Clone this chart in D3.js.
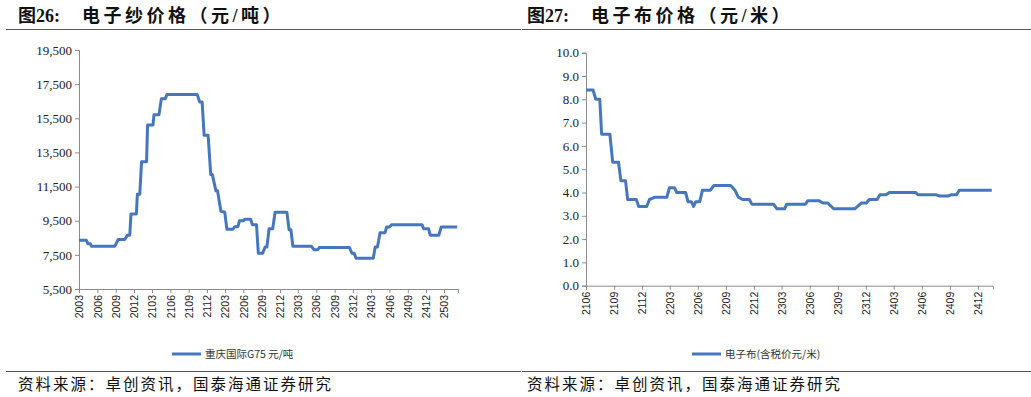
<!DOCTYPE html>
<html>
<head>
<meta charset="utf-8">
<script src="https://cdn.jsdelivr.net/npm/d3@7"></script>
<style>
  body { margin: 0; background: #fff; }
  svg { display: block; }
  .title { font-family: "Liberation Serif", "Noto Sans CJK SC", serif; font-weight: bold; font-size: 18px; fill: #111; }
  .title .rest { letter-spacing: 3.5px; }
  .source { font-family: "Noto Sans CJK SC", sans-serif; font-size: 15.5px; letter-spacing: 2px; fill: #111; }
  .legend { font-family: "Noto Sans CJK SC", sans-serif; font-size: 10.5px; fill: #333; }
  .y-axis text { font-family: "Liberation Serif", serif; font-size: 13px; fill: #222; }
  .x-axis text { font-family: "Liberation Sans", Arial, sans-serif; font-size: 10.5px; fill: #222; }
  .axis path, .axis line { stroke: #8c8c8c; }
</style>
</head>
<body>
<div id="chart"></div>
<script>
// 电子纱价格 重庆国际G75 (元/吨), vertices of the weekly price line
const yarnDates = [
  "2020-03-01", "2020-04-07", "2020-04-15", "2020-04-27", "2020-05-02", "2020-08-27", "2020-09-13",
  "2020-10-16", "2020-10-29", "2020-11-10", "2020-11-16", "2020-12-13", "2020-12-18", "2020-12-30",
  "2021-01-08", "2021-02-02", "2021-02-07", "2021-03-06", "2021-03-11", "2021-04-05", "2021-04-17",
  "2021-05-07", "2021-05-15", "2021-10-13", "2021-10-26", "2021-11-07", "2021-11-17", "2021-12-07",
  "2021-12-20", "2021-12-28", "2022-01-15", "2022-01-23", "2022-02-09", "2022-02-28", "2022-03-11",
  "2022-04-10", "2022-04-19", "2022-05-05", "2022-05-13", "2022-06-03", "2022-06-08", "2022-07-08",
  "2022-07-16", "2022-08-06", "2022-08-15", "2022-09-06", "2022-09-18", "2022-09-27", "2022-10-08",
  "2022-10-26", "2022-11-07", "2023-01-05", "2023-01-16", "2023-01-25", "2023-02-04", "2023-05-08",
  "2023-05-21", "2023-06-08", "2023-06-16", "2023-11-14", "2023-11-26", "2023-12-07", "2023-12-17",
  "2024-03-12", "2024-03-22", "2024-04-02", "2024-04-15", "2024-05-10", "2024-05-18", "2024-06-01",
  "2024-06-13", "2024-11-11", "2024-11-19", "2024-12-14", "2024-12-22", "2025-02-03", "2025-02-15",
  "2025-05-06"
];
const yarnValues = [
  8350, 8350, 8150, 8150, 8000, 8000, 8400,
  8400, 8650, 8650, 9900, 9900, 11050, 11050,
  12950, 12950, 15100, 15100, 15700, 15700, 16650,
  16650, 16900, 16900, 16450, 16450, 14500, 14500,
  12200, 12200, 11250, 11250, 10050, 10000, 9000,
  9000, 9150, 9150, 9500, 9500, 9580, 9580,
  9270, 9270, 7600, 7600, 7960, 7960, 9030,
  9030, 10000, 10000, 8970, 8970, 8000, 8000,
  7800, 7800, 7930, 7930, 7600, 7600, 7300,
  7300, 7960, 7960, 8800, 8800, 9130, 9130,
  9270, 9270, 9030, 9030, 8650, 8650, 9130,
  9130
];
const yarnXTicks = ["2003", "2006", "2009", "2012", "2103", "2106", "2109", "2112", "2203", "2206", "2209",
  "2212", "2303", "2306", "2309", "2312", "2403", "2406", "2409", "2412", "2503"];
const yarnYTicks = [5500, 7500, 9500, 11500, 13500, 15500, 17500, 19500];

// 电子布价格 (含税价 元/米)
const clothDates = [
  "2021-06-01", "2021-06-24", "2021-07-03", "2021-07-16", "2021-07-22", "2021-08-18", "2021-08-27",
  "2021-09-15", "2021-09-23", "2021-10-08", "2021-10-15", "2021-11-12", "2021-11-20", "2021-12-16",
  "2021-12-25", "2022-01-13", "2022-02-20", "2022-02-28", "2022-03-17", "2022-03-24", "2022-04-22",
  "2022-04-30", "2022-05-11", "2022-05-18", "2022-05-25", "2022-06-07", "2022-06-16", "2022-07-12",
  "2022-07-23", "2022-09-16", "2022-09-30", "2022-10-11", "2022-10-25", "2022-11-16", "2022-11-24",
  "2023-02-03", "2023-02-14", "2023-03-11", "2023-03-18", "2023-05-18", "2023-05-26", "2023-07-01",
  "2023-07-14", "2023-07-30", "2023-08-18", "2023-10-26", "2023-11-17", "2023-12-03", "2023-12-12",
  "2024-01-07", "2024-01-16", "2024-02-05", "2024-02-16", "2024-05-12", "2024-05-19", "2024-07-18",
  "2024-07-29", "2024-08-25", "2024-09-04", "2024-09-22", "2024-10-01", "2025-01-15"
];
const clothValues = [
  8.4, 8.4, 8.0, 8.0, 6.5, 6.5, 5.3,
  5.3, 4.5, 4.5, 3.7, 3.7, 3.4, 3.4,
  3.7, 3.8, 3.8, 4.2, 4.2, 4.0, 4.0,
  3.6, 3.6, 3.4, 3.6, 3.6, 4.1, 4.1,
  4.3, 4.3, 4.1, 3.8, 3.7, 3.7, 3.5,
  3.5, 3.3, 3.3, 3.5, 3.5, 3.65, 3.65,
  3.55, 3.55, 3.3, 3.3, 3.55, 3.55, 3.7,
  3.7, 3.9, 3.9, 4.0, 4.0, 3.9, 3.9,
  3.85, 3.85, 3.9, 3.9, 4.1, 4.1
];
const clothXTicks = ["2106", "2109", "2112", "2203", "2206", "2209", "2212", "2303", "2306", "2309",
  "2312", "2403", "2406", "2409", "2412"];
const clothYTicks = [0, 1, 2, 3, 4, 5, 6, 7, 8, 9, 10];

const lineColor = "#4677be";
const parseDate = d3.timeParse("%Y-%m-%d");
const parseTick = d3.timeParse("%y%m");

const svg = d3.select("#chart").append("svg").attr("width", 1031).attr("height", 397);

function drawPanel(opt) {
  const g = svg.append("g");
  const data = opt.dates.map((d, i) => ({ date: parseDate(d), value: opt.values[i] }));

  // title + rules
  const title = g.append("text").attr("class", "title").attr("y", 22);
  title.append("tspan").attr("x", opt.titleX).text(opt.titleNo);
  title.append("tspan").attr("class", "rest").attr("x", opt.titleX + 64).text(opt.title);
  g.append("line").attr("x1", opt.left0).attr("x2", opt.right0).attr("y1", 29.5).attr("y2", 29.5)
    .attr("stroke", "#555").attr("stroke-width", 1.2);
  g.append("line").attr("x1", opt.left0).attr("x2", opt.right0).attr("y1", 371.5).attr("y2", 371.5)
    .attr("stroke", "#555").attr("stroke-width", 1.2);
  g.append("text").attr("class", "source").attr("x", opt.titleX).attr("y", 390)
    .text("资料来源：卓创资讯，国泰海通证券研究");

  const x = d3.scaleTime().domain(opt.xDomain.map(parseDate)).range([opt.x0, opt.x1]);
  const y = d3.scaleLinear().domain(d3.extent(opt.yTicks)).range([opt.yBottom, opt.yTop]);

  g.append("g")
    .attr("class", "axis y-axis")
    .attr("transform", `translate(${opt.x0},0)`)
    .call(d3.axisLeft(y).tickValues(opt.yTicks).tickSize(4).tickPadding(3).tickFormat(opt.yFormat));

  const xAxis = g.append("g")
    .attr("class", "axis x-axis")
    .attr("transform", `translate(0,${opt.yBottom})`)
    .call(d3.axisBottom(x).tickValues(opt.xTicks.map(parseTick)).tickSize(4).tickFormat(d3.timeFormat("%y%m")));
  xAxis.selectAll("text")
    .attr("transform", "rotate(-90)")
    .attr("x", -6)
    .attr("y", 0)
    .attr("dy", "0.35em")
    .style("text-anchor", "end");

  const line = d3.line().x((d) => x(d.date)).y((d) => y(d.value));
  g.append("path").datum(data).attr("fill", "none").attr("stroke", lineColor)
    .attr("stroke-width", 3).attr("stroke-linejoin", "round").attr("d", line);

  // legend
  g.append("line").attr("x1", opt.legendX).attr("x2", opt.legendX + 29).attr("y1", 354).attr("y2", 354)
    .attr("stroke", lineColor).attr("stroke-width", 3);
  g.append("text").attr("class", "legend").attr("x", opt.legendX + 33).attr("y", 358).text(opt.legend);
}

drawPanel({
  titleNo: "图26:", title: "电子纱价格（元/吨）",
  legend: "重庆国际G75 元/吨",
  dates: yarnDates, values: yarnValues, xTicks: yarnXTicks, yTicks: yarnYTicks,
  xDomain: ["2020-03-01", "2025-05-10"],
  yFormat: d3.format(","),
  titleX: 18, left0: 6, right0: 521, x0: 79, x1: 458, yTop: 50, yBottom: 289, legendX: 172
});

drawPanel({
  titleNo: "图27:", title: "电子布价格（元/米）",
  legend: "电子布(含税价元/米)",
  dates: clothDates, values: clothValues, xTicks: clothXTicks, yTicks: clothYTicks,
  xDomain: ["2021-06-01", "2025-01-19"],
  yFormat: d3.format(".1f"),
  titleX: 527, left0: 522, right0: 1031, x0: 586, x1: 993, yTop: 52.7, yBottom: 285.7, legendX: 692
});
</script>
</body>
</html>
